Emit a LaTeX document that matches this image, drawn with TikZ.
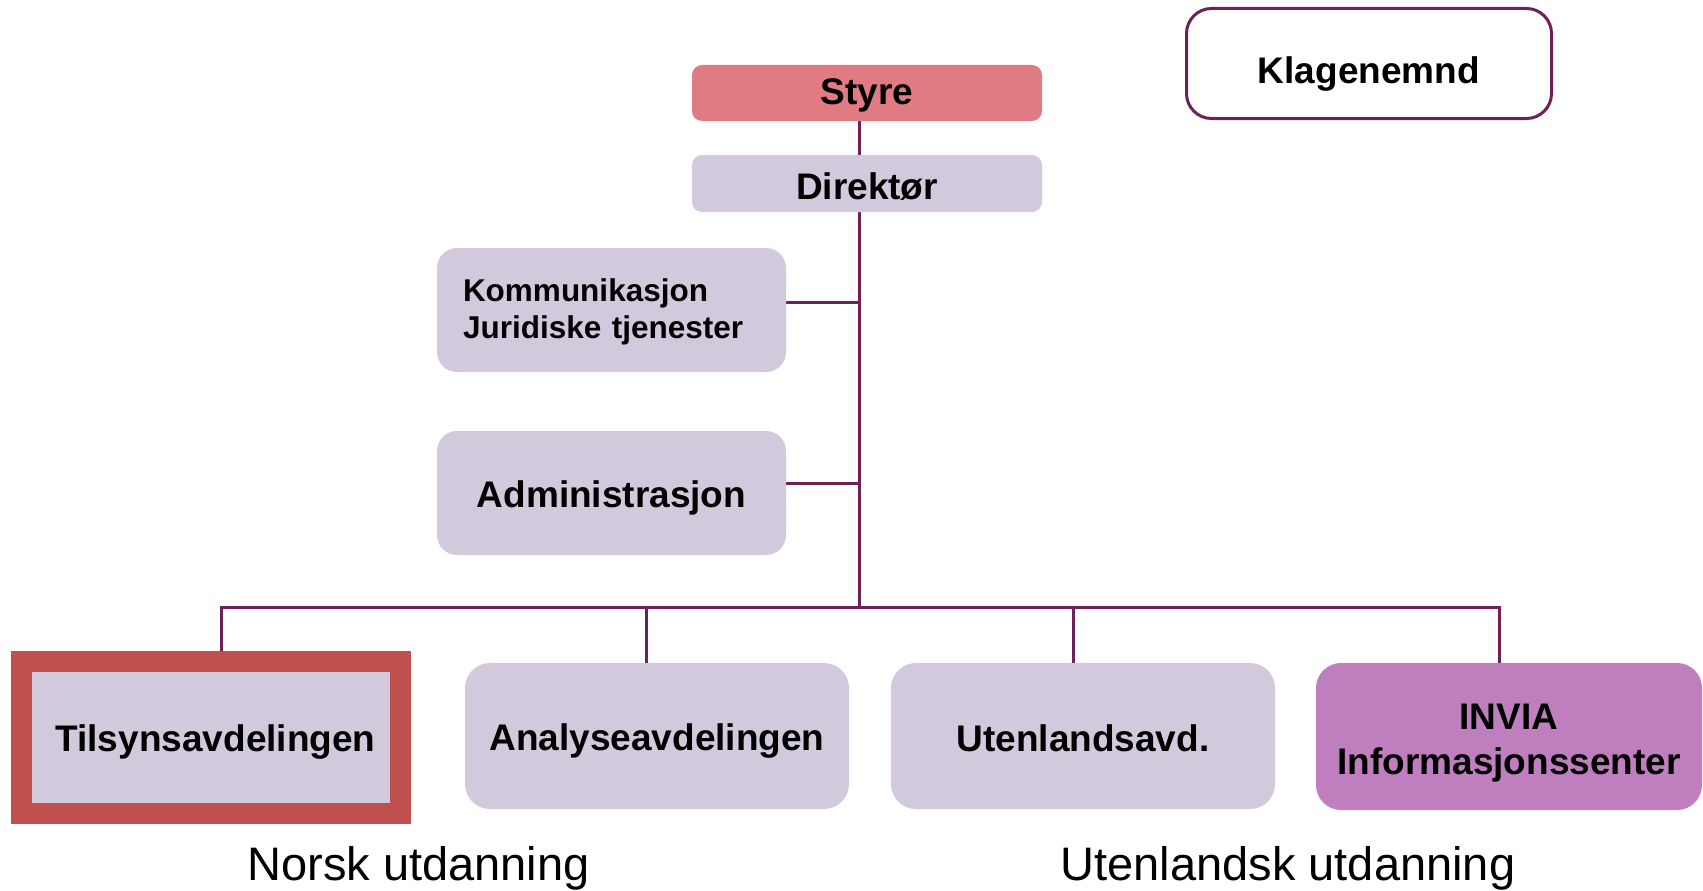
\documentclass[tikz,border=0pt]{standalone}
\usepackage{fontspec}
\setmainfont{Liberation Sans}
\usetikzlibrary{backgrounds}
\definecolor{lav}{HTML}{D3C9DC}
\definecolor{styrec}{HTML}{E07B83}
\definecolor{inviac}{HTML}{BF7FBE}
\definecolor{redb}{HTML}{C0504D}
\definecolor{linec}{HTML}{6E2158}
\newcommand\lowertext[2]{\raisebox{-#1}[\height][\depth]{#2}}
\begin{document}
\begin{tikzpicture}[x=1pt,y=-1pt,
  box/.style={rectangle, inner sep=0pt, align=center, text=black,
    font=\bfseries\fontsize{37}{45}\selectfont},
  unit/.style={box, fill=lav, minimum width=384pt, minimum height=146pt, rounded corners=25pt},
  side/.style={box, fill=lav, minimum width=349pt, minimum height=124pt, rounded corners=20pt},
  top/.style={box, minimum width=350pt, rounded corners=10pt},
  conn/.style={draw=linec, line width=3pt},
  lbl/.style={anchor=base, inner sep=0pt, font=\fontsize{47}{56}\selectfont}]
\useasboundingbox (0,0) rectangle (1703,891);

\node[top, fill=styrec, minimum height=56pt] (styre) at (867,93) {\lowertext{2pt}{Styre}};
\node[top, fill=lav, minimum height=57pt] (dir) at (867,183.5) {\lowertext{3pt}{Direktør}};
\node[box, draw=linec, line width=3pt, fill=white, minimum width=365pt,
      minimum height=110pt, rounded corners=25pt] (klage) at (1369,63.5) {\lowertext{11pt}{Klagenemnd}};

\node[side, inner xsep=26pt, text width=297pt, align=left,
      font=\bfseries\fontsize{31.5}{37}\selectfont] (komm) at (611.5,310)
      {\lowertext{3pt}{\begin{tabular}{@{}l@{}}Kommunikasjon\\Juridiske tjenester\end{tabular}}};
\node[side] (admin) at (611.5,493) {\lowertext{5pt}{Administrasjon}};

\node[box, fill=lav, draw=redb, line width=21pt, minimum width=379pt,
      minimum height=152pt] (tilsyn) at (210.5,737.5) {\hspace*{10pt}\lowertext{5pt}{Tilsynsavdelingen}};
\node[unit] (analyse) at (657,736) {\lowertext{5pt}{Analyseavdelingen}};
\node[unit] (utl) at (1083,736) {\lowertext{2pt}{Utenlandsavd.}};
\node[unit, fill=inviac, minimum width=386pt, minimum height=147pt] (invia) at (1509,736.5)
      {\lowertext{6pt}{\begin{tabular}{@{}c@{}}INVIA\\Informasjonssenter\end{tabular}}};

\node[lbl] (norsk) at (418.5,880) {Norsk utdanning};
\node[lbl] (utlu) at (1288,880) {Utenlandsk utdanning};

\coordinate (trunk) at (859,607);
\coordinate (busL) at (221,607);
\coordinate (busA) at (646,607);
\coordinate (busU) at (1073,607);
\coordinate (busR) at (1499,607);

\begin{scope}[on background layer]
  \draw[conn] (styre.south -| trunk) -- (dir.north -| trunk);
  \draw[conn] (dir.south -| trunk) -- (trunk);
  \draw[conn] ([yshift=8pt]komm.east) -- ([yshift=8pt]komm.east -| trunk);
  \draw[conn] ([yshift=10pt]admin.east) -- ([yshift=10pt]admin.east -| trunk);
  \draw[conn] (tilsyn.north -| busL) -- (busL) -- (busR) -- (invia.north -| busR);
  \draw[conn] (busA) -- (analyse.north -| busA);
  \draw[conn] (busU) -- (utl.north -| busU);
\end{scope}
\end{tikzpicture}
\end{document}
